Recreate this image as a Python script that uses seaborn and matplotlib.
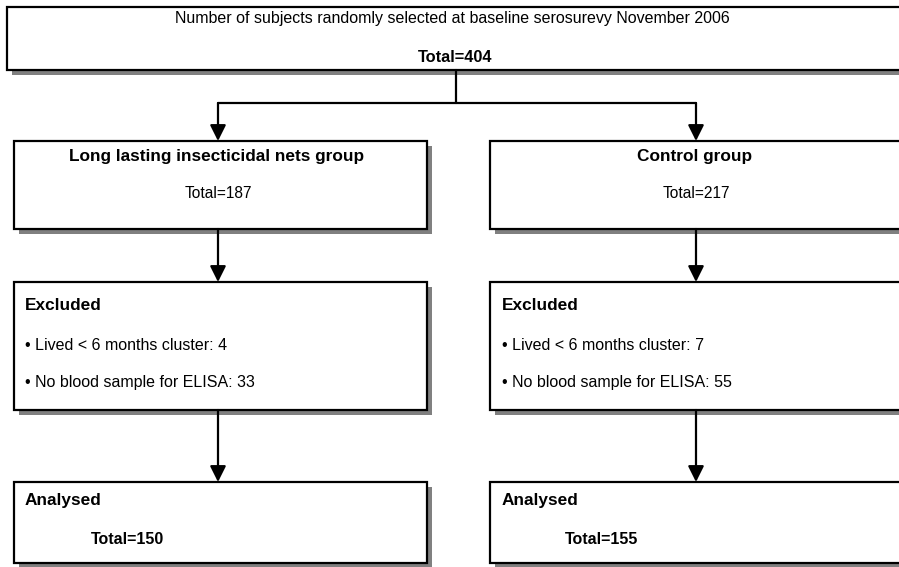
import matplotlib
matplotlib.use("Agg")
import matplotlib.pyplot as plt
import seaborn as sns
from matplotlib.patches import Rectangle

# ---- data ----
baseline_title = "Number of subjects randomly selected at baseline serosurevy November 2006"
baseline_total = 404
groups = ["Long lasting insecticidal nets group", "Control group"]
group_totals = [187, 217]
lived_lt6 = [4, 7]
no_blood = [33, 55]
analysed = [150, 155]

sns.set_theme(style="white")
plt.rcParams["font.family"] = ["Liberation Sans", "DejaVu Sans"]
plt.rcParams["text.color"] = "black"

fig = plt.figure(figsize=(8.99, 5.67), dpi=100)
ax = fig.add_axes([0, 0, 1, 1])
ax.set_xlim(0, 899)
ax.set_ylim(567, 0)
ax.axis("off")

SH = "#808080"
LW = 1.6


def box(x0, y0, x1, y1):
    ax.add_patch(Rectangle((x0 + 5, y0 + 5), x1 - x0, y1 - y0, facecolor=SH,
                           edgecolor="none", zorder=1))
    ax.add_patch(Rectangle((x0, y0), x1 - x0, y1 - y0, facecolor="white",
                           edgecolor="black", lw=LW, zorder=2))


def arrow(x, y0, y1):
    ax.annotate("", xy=(x, y1), xytext=(x, y0),
                arrowprops=dict(arrowstyle="-|>,head_length=0.8,head_width=0.4",
                                color="black", lw=LW, shrinkA=0, shrinkB=0),
                zorder=3)


# top box
box(7, 7, 905, 70)
ax.text(452, 19, baseline_title, ha="center", va="center", fontsize=11.5, zorder=4)
ax.text(455, 57, f"Total={baseline_total}", ha="center", va="center", fontsize=11.8,
        fontweight="bold", zorder=4)

# connectors
ax.plot([456, 456], [70, 103], color="black", lw=LW, zorder=3)
ax.plot([218, 696], [103, 103], color="black", lw=LW, zorder=3)

lefts = [14, 490]
rights = [427, 905]
centers = [218, 696]
text_x = [25, 502]
tot_x = [91, 565]

for i in range(2):
    xl, xr, xc = lefts[i], rights[i], centers[i]
    arrow(xc, 103, 141)
    box(xl, 141, xr, 229)
    ax.text(xc - 1, 157, groups[i], ha="center", va="center", fontsize=12.4,
            fontweight="bold", zorder=4)
    ax.text(xc, 194, f"Total={group_totals[i]}", ha="center", va="center",
            fontsize=11.2, zorder=4)

    arrow(xc, 229, 282)
    box(xl, 282, xr, 410)
    ax.text(text_x[i], 306, "Excluded", ha="left", va="center", fontsize=12.4,
            fontweight="bold", zorder=4)
    ax.text(text_x[i], 346, f"\u2022 Lived < 6 months cluster: {lived_lt6[i]}",
            ha="left", va="center", fontsize=11.5, zorder=4)
    ax.text(text_x[i], 383, f"\u2022 No blood sample for ELISA: {no_blood[i]}",
            ha="left", va="center", fontsize=11.5, zorder=4)

    arrow(xc, 410, 482)
    box(xl, 482, xr, 563)
    ax.text(text_x[i], 501, "Analysed", ha="left", va="center", fontsize=12.4,
            fontweight="bold", zorder=4)
    ax.text(tot_x[i], 540, f"Total={analysed[i]}", ha="left", va="center",
            fontsize=11.5, fontweight="bold", zorder=4)

fig.savefig("out.png", dpi=100)
